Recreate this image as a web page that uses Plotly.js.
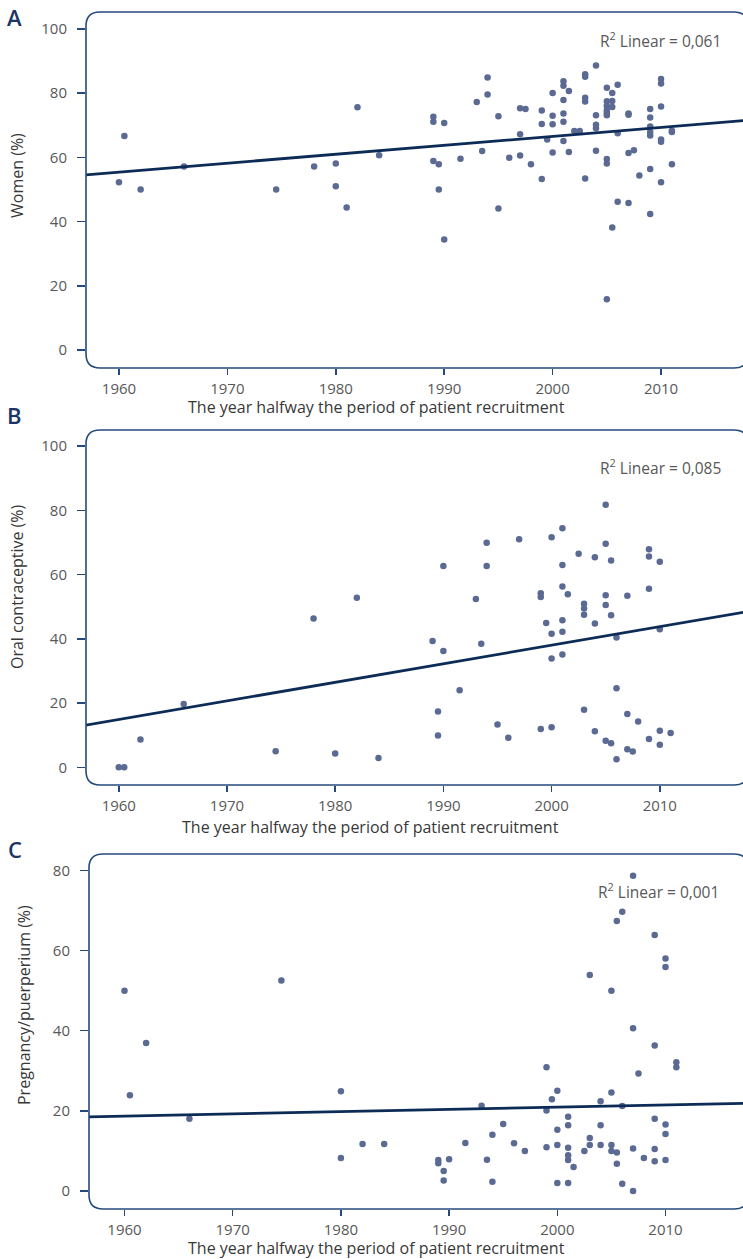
<!DOCTYPE html>
<html>
<head>
<meta charset="utf-8">
<script src="https://cdn.plot.ly/plotly-3.0.1.min.js"></script>
<style>
html,body{margin:0;padding:0;background:#fff;}
#chart{width:743px;height:1259px;}
</style>
</head>
<body>
<div id="chart"></div>
<script>
// ---------- DATA ----------
const yearTicks = [1960, 1970, 1980, 1990, 2000, 2010];

// Panel A: Women (%)
const aYear = [1960,1960.5,1962,1966,1974.5,1978,1980,1980,1981,1982,1984,
  1989,1989,1990,1989,1989.5,1989.5,1990,1991.5,1993,1993.5,1994,1994,1995,1995,1996,
  1997,1997.5,1997,1997,1998,1999,1999,1999,1999.5,2000,2000,2000,2000,
  2001,2001,2001,2001,2001,2001,2001.5,2001.5,2002,2002.5,
  2003,2003,2003,2003,2003,2004,2004,2004,2004,2004,
  2005,2005,2005,2005,2005,2005,2005,2005,2005,2005.5,2005.5,2005.5,2005.5,
  2006,2006,2006,2007,2007,2007,2007.5,2007,2008,
  2009,2009,2009,2009,2009,2009,2009,2010,2010,2010,2010,2010,2010,2011,2011,2011];
const aWomen = [52.3,66.7,50.0,57.2,50.0,57.2,58.1,51.0,44.4,75.6,60.7,
  72.7,71.1,70.7,58.9,57.9,50.0,34.4,59.6,77.3,62.0,84.9,79.6,72.8,44.1,59.9,
  75.3,75.1,67.2,60.6,57.9,74.6,70.4,53.3,65.6,80.1,73.0,70.3,61.5,
  83.7,82.3,77.9,73.7,71.1,65.1,80.7,61.7,68.2,68.2,
  85.9,85.1,78.6,77.4,53.4,88.6,73.1,70.2,69.1,62.1,
  81.7,77.5,76.0,74.6,73.8,73.1,59.5,58.1,15.8,80.1,77.6,75.7,38.2,
  82.6,67.5,46.2,73.7,73.3,61.4,62.2,45.8,54.4,
  75.1,72.4,69.6,67.9,66.8,56.4,42.4,84.4,83.0,75.9,65.6,64.9,52.3,68.3,67.9,57.9];
const aFitX = [1956.0, 2018.5];
const aFitY = [54.3, 71.7];
const aR2 = "0,061";

// Panel B: Oral contraceptive (%)
const bYear = [1960,1960.5,1962,1966,1974.5,1978,1980,1982,1984,
  1989,1989.5,1989.5,1990,1990,1991.5,1993,1993.5,1994,1994,1995,1996,1997,
  1999,1999,1999,1999.5,2000,2000,2000,2000,
  2001,2001,2001,2001,2001,2001,2001.5,2002.5,2003,2003,2003,2003,
  2004,2004,2004,2005,2005,2005,2005,2005,2005.5,2005.5,2005.5,
  2006,2006,2006,2007,2007,2007,2007.5,2008,
  2009,2009,2009,2009,2010,2010,2010,2010,2011];
const bOC = [0,0,8.7,19.7,5.0,46.3,4.3,52.8,2.9,
  39.3,17.4,9.9,62.7,36.2,24.0,52.4,38.5,69.9,62.7,13.3,9.2,71.0,
  54.2,53.0,11.9,44.9,71.6,41.6,33.9,12.5,
  74.4,63.0,56.3,45.8,42.2,35.1,53.9,66.5,50.9,49.4,47.5,17.9,
  65.4,44.8,11.2,81.7,69.6,53.6,50.5,8.3,64.4,47.3,7.5,
  40.4,24.6,2.5,53.4,16.6,5.6,4.9,14.3,
  67.9,65.6,55.6,8.8,64.0,43.0,11.4,7.0,10.7];
const bFitX = [1956.0, 2018.5];
const bFitY = [12.6, 48.7];
const bR2 = "0,085";

// Panel C: Pregnancy/puerperium (%)
const cYear = [1960,1960.5,1962,1966,1974.5,1980,1980,1982,1984,
  1989,1989,1989.5,1989.5,1990,1991.5,1993,1993.5,1994,1994,1995,1996,1997,
  1999,1999,1999,1999.5,2000,2000,2000,2000,
  2001,2001,2001,2001,2001,2001,2001.5,2002.5,2003,2003,2003,
  2004,2004,2004,2005,2005,2005,2005,2005.5,2005.5,2005.5,
  2006,2006,2006,2007,2007,2007,2007,2007.5,2008,
  2009,2009,2009,2009,2009,2010,2010,2010,2010,2010,2011,2011];
const cPreg = [50.0,23.9,36.9,18.0,52.5,24.9,8.2,11.7,11.7,
  7.7,6.9,5.0,2.6,7.9,12.0,21.3,7.8,14.0,2.3,16.7,11.9,10.0,
  30.9,20.1,10.9,22.9,25.0,15.3,11.5,2.0,
  18.5,16.4,10.8,8.9,7.7,2.0,6.0,10.0,53.9,13.2,11.5,
  22.4,16.4,11.5,50.0,24.6,11.5,10.0,67.4,9.6,6.8,
  69.7,21.2,1.8,78.7,40.6,10.6,0.0,29.3,8.2,
  63.9,36.3,18.0,10.5,7.4,58.0,55.9,16.6,14.2,7.7,32.1,30.9];
const cFitX = [1956.0, 2018.5];
const cFitY = [18.45, 21.95];
const cR2 = "0,001";

// ---------- LAYOUT HELPERS ----------
const W = 743, H = 1259;
const px = v => v / W;
const py = v => 1 - v / H;

const NAVY = '#0d2b57';
const FRAME = '#244a7c';
const DOT = '#5b6a93';
const TXT = '#585858';
const FONT = '"Open Sans", "Noto Sans", sans-serif';

const panels = [
  {key:'', x0:86, x1:743, y0:12, y1:368, xr:[1956.96,2017.56], yr:[-5.6,105.3],
   yt:[0,20,40,60,80,100], yTitle:'Women (%)', yTitleX:17, yTitleY:176, xTitleX:376, xTitleY:407,
   label:'A', labY:17, r2:aR2, r2X:660, r2Y:40,
   xs:aYear, ys:aWomen, fx:aFitX, fy:aFitY},
  {key:'2', x0:86, x1:743, y0:430, y1:785, xr:[1956.97,2017.69], yr:[-5.5,105.0],
   yt:[0,20,40,60,80,100], yTitle:'Oral contraceptive (%)', yTitleX:17, yTitleY:587, xTitleX:370, xTitleY:827,
   label:'B', labY:415, r2:bR2, r2X:660, r2Y:467,
   xs:bYear, ys:bOC, fx:bFitX, fy:bFitY},
  {key:'3', x0:89, x1:743, y0:854, y1:1209, xr:[1956.72,2017.16], yr:[-4.5,84.1],
   yt:[0,20,40,60,80], yTitle:'Pregnancy/puerperium (%)', yTitleX:24, yTitleY:1005, xTitleX:376, xTitleY:1248,
   label:'C', labY:849, r2:cR2, r2X:658, r2Y:891,
   xs:cYear, ys:cPreg, fx:cFitX, fy:cFitY}
];

const traces = [];
const layout = {
  width: W, height: H,
  margin: {l:0, r:0, t:0, b:0},
  paper_bgcolor: '#fff', plot_bgcolor: 'rgba(0,0,0,0)',
  showlegend: false,
  font: {family: FONT, color: TXT, size: 14},
  shapes: [], annotations: []
};

function roundedRect(x0, y0, x1, y1, r) {
  const X = v => px(v), Y = v => py(v);
  return 'M' + X(x0 + r) + ',' + Y(y0) +
    ' L' + X(x1 - r) + ',' + Y(y0) +
    ' Q' + X(x1) + ',' + Y(y0) + ' ' + X(x1) + ',' + Y(y0 + r) +
    ' L' + X(x1) + ',' + Y(y1 - r) +
    ' Q' + X(x1) + ',' + Y(y1) + ' ' + X(x1 - r) + ',' + Y(y1) +
    ' L' + X(x0 + r) + ',' + Y(y1) +
    ' Q' + X(x0) + ',' + Y(y1) + ' ' + X(x0) + ',' + Y(y1 - r) +
    ' L' + X(x0) + ',' + Y(y0 + r) +
    ' Q' + X(x0) + ',' + Y(y0) + ' ' + X(x0 + r) + ',' + Y(y0) + ' Z';
}

panels.forEach(p => {
  const xa = 'x' + p.key, ya = 'y' + p.key;
  traces.push({
    type: 'scatter', mode: 'markers', x: p.xs, y: p.ys, xaxis: xa, yaxis: ya,
    marker: {color: DOT, size: 6.5, line: {width: 0}}, hoverinfo: 'x+y'
  });
  traces.push({
    type: 'scatter', mode: 'lines', x: p.fx, y: p.fy, xaxis: xa, yaxis: ya,
    line: {color: NAVY, width: 2.8}, hoverinfo: 'skip'
  });
  layout['xaxis' + p.key] = {
    domain: [px(p.x0), px(p.x1)], range: p.xr, anchor: ya,
    tickvals: yearTicks, ticks: 'outside', ticklen: 6, tickwidth: 1.5, tickcolor: FRAME,
    showline: false, showgrid: false, zeroline: false, fixedrange: true,
    tickfont: {family: FONT, size: 15, color: TXT}, ticklabelstandoff: 1
  };
  layout['yaxis' + p.key] = {
    domain: [py(p.y1), py(p.y0)], range: p.yr, anchor: xa,
    tickvals: p.yt, ticks: 'outside', ticklen: 8, tickwidth: 1.5, tickcolor: FRAME,
    showline: false, showgrid: false, zeroline: false, fixedrange: true,
    tickfont: {family: FONT, size: 15, color: TXT}, ticklabelstandoff: 7
  };
  layout.shapes.push({
    type: 'path', xref: 'paper', yref: 'paper',
    path: roundedRect(p.x0, p.y0, 748, p.y1, 14),
    line: {color: FRAME, width: 1.6}, fillcolor: 'rgba(0,0,0,0)', layer: 'above'
  });
  layout.annotations.push({
    xref: 'paper', yref: 'paper', x: px(p.xTitleX), y: py(p.xTitleY),
    xanchor: 'center', yanchor: 'middle', showarrow: false,
    text: 'The year halfway the period of patient recruitment',
    font: {family: FONT, size: 16, color: '#383838'}
  });
  layout.annotations.push({
    xref: 'paper', yref: 'paper', x: px(p.yTitleX), y: py(p.yTitleY),
    xanchor: 'center', yanchor: 'middle', showarrow: false, textangle: -90,
    text: p.yTitle, font: {family: FONT, size: 16, color: '#383838'}
  });
  layout.annotations.push({
    xref: 'paper', yref: 'paper', x: px(15), y: py(p.labY),
    xanchor: 'center', yanchor: 'middle', showarrow: false,
    text: p.label, font: {family: FONT, size: 22, color: '#1b3566', weight: 600}
  });
  layout.annotations.push({
    xref: 'paper', yref: 'paper', x: px(p.r2X), y: py(p.r2Y),
    xanchor: 'center', yanchor: 'middle', showarrow: false,
    text: 'R<sup>2</sup> Linear = ' + p.r2, font: {family: FONT, size: 15.5, color: TXT}
  });
});

Plotly.newPlot('chart', traces, layout, {displayModeBar: false, staticPlot: true});
</script>
</body>
</html>
